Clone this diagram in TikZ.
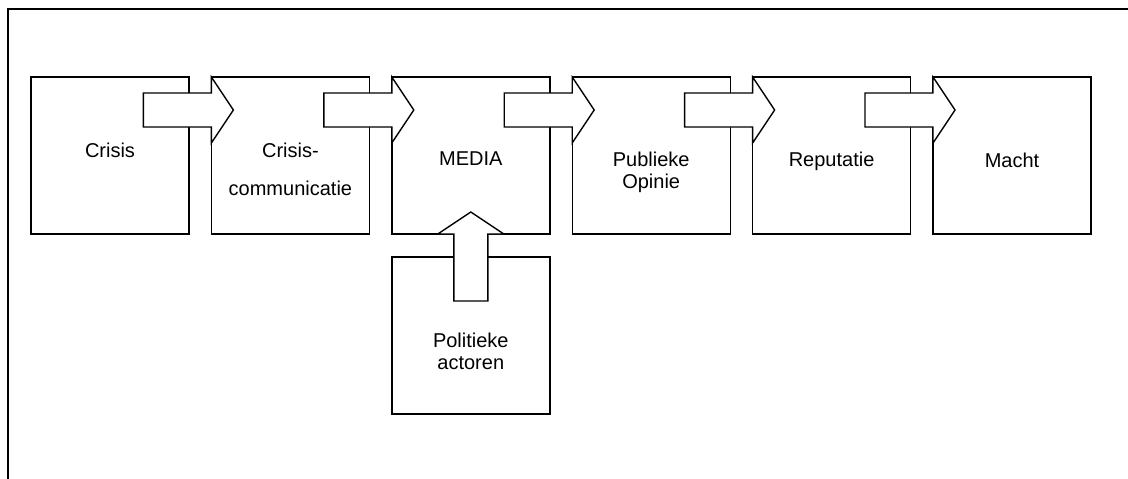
\documentclass[tikz,border=0pt]{standalone}
\usepackage{fontspec}
\setmainfont{Liberation Sans}
\usetikzlibrary{positioning}

% block arrow ending in the top left part of a box
\newcommand\harrow[1]{%
  \draw[a] ([shift={(-68pt,-16pt)}]#1.north west) -- ([shift={(0pt,-16pt)}]#1.north west)
    -- (#1.north west) -- ([shift={(22pt,-33pt)}]#1.north west)
    -- ([shift={(0pt,-66pt)}]#1.north west) -- ([shift={(0pt,-50pt)}]#1.north west)
    -- ([shift={(-68pt,-50pt)}]#1.north west) -- cycle;}

\begin{document}
\begin{tikzpicture}[
  x=1pt, y=1pt, node distance=22.4pt,
  b/.style={draw, line width=1.4pt, minimum width=158pt, minimum height=157pt, inner sep=0pt, outer sep=0pt},
  t/.style={align=center, inner sep=0pt, font=\fontsize{20}{22}\selectfont},
  a/.style={draw, fill=white, line width=1.4pt, line join=miter}
]
\useasboundingbox (0,0) rectangle (1128,-479);
% frame (cut off at right and bottom)
\draw[line width=1.5pt] (8,-479) -- (8,-9) -- (1128,-9);

\node[b] (crisis) at (110,-155.5) {};
\node[b, right=of crisis] (crisiscom) {};
\node[b, right=of crisiscom] (media) {};
\node[b, right=of media] (opinie) {};
\node[b, right=of opinie] (reputatie) {};
\node[b, right=of reputatie] (macht) {};
\node[b, below=23pt of media] (politiek) {};

\harrow{crisiscom}
\harrow{media}
\harrow{opinie}
\harrow{reputatie}
\harrow{macht}
\draw[a] ([shift={(-33pt,0pt)}]media.south) -- ([shift={(0pt,22pt)}]media.south)
  -- ([shift={(33pt,0pt)}]media.south) -- ([shift={(17pt,0pt)}]media.south)
  -- ([shift={(17pt,-67pt)}]media.south) -- ([shift={(-17pt,-67pt)}]media.south)
  -- ([shift={(-17pt,0pt)}]media.south) -- cycle;

\node[t, below=66pt of crisis.north] (crisis-t) {Crisis};
\node[t, below=66pt of crisiscom.north] (crisiscom-t) {Crisis-\\[16pt]communicatie};
\node[t, below=75pt of media.north] (media-t) {MEDIA};
\node[t, below=75pt of opinie.north] (opinie-t) {Publieke\\Opinie};
\node[t, below=75pt of reputatie.north] (reputatie-t) {Reputatie};
\node[t, below=76pt of macht.north] (macht-t) {Macht};
\node[t, below=76pt of politiek.north] (politiek-t) {Politieke\\actoren};
\end{tikzpicture}
\end{document}
